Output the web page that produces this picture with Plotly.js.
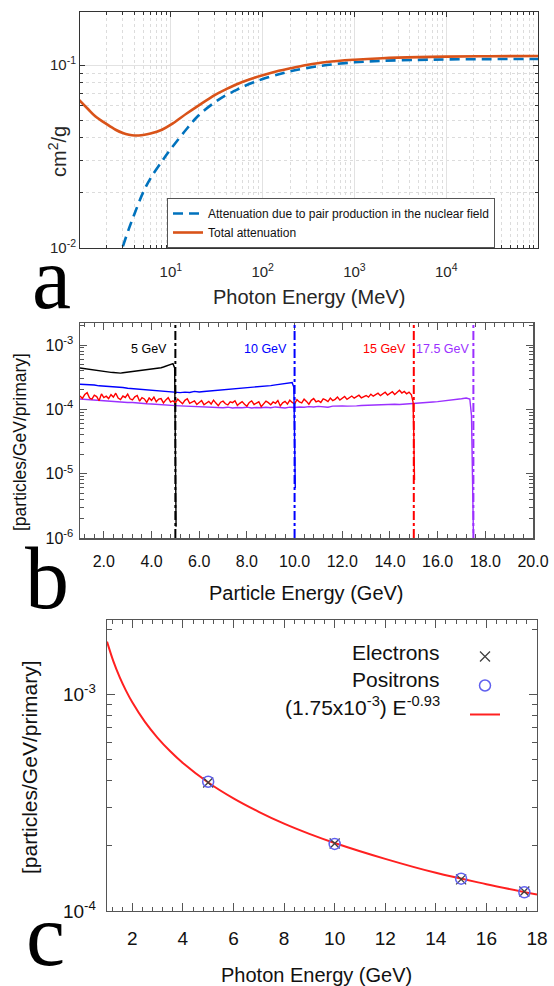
<!DOCTYPE html>
<html>
<head>
<meta charset="utf-8">
<script src="https://cdn.plot.ly/plotly-3.0.1.min.js"></script>
<style>html,body{margin:0;padding:0;background:#fff;}#chart{width:554px;height:986px;}</style>
</head>
<body>
<div id="chart"></div>
<script>
// ---------------- Panel a: attenuation in lead (cm^2/g vs MeV) ----------------
const totalE  = [1.0, 1.25, 1.5, 2, 2.5, 3, 3.5, 4, 5, 6, 8, 10, 15, 20, 30, 40, 50, 60, 80, 100, 150, 200, 300, 500, 1000, 2000, 5000, 10000, 30000, 100000];
const totalMu = [0.0645, 0.0575, 0.0525, 0.0475, 0.0443, 0.0425, 0.0416, 0.0412, 0.0415, 0.0422, 0.0443, 0.0472, 0.0545, 0.0600, 0.0685, 0.0738, 0.0778, 0.0808, 0.0850, 0.0880, 0.0930, 0.0960, 0.1000, 0.1040, 0.1070, 0.1090, 0.1105, 0.1112, 0.1118, 0.1120];
const pairE   = [3.0, 3.5, 4, 5, 6, 8, 10, 15, 20, 30, 40, 50, 60, 80, 100, 150, 200, 300, 500, 1000, 2000, 5000, 10000, 30000, 100000];
const pairMu  = [0.0102, 0.0128, 0.0153, 0.0202, 0.0240, 0.0298, 0.0348, 0.0450, 0.0530, 0.0625, 0.0685, 0.0724, 0.0758, 0.0805, 0.0838, 0.0890, 0.0925, 0.0962, 0.1000, 0.1035, 0.1055, 0.1068, 0.1073, 0.1078, 0.1080];
const legendA = ['Attenuation due to pair production in the nuclear field', 'Total attenuation'];

// ---------------- Panel b: spectra (particles/GeV/primary) ----------------
const beamE = [5, 10, 15, 17.5];
const beamLabels = ['5 GeV', '10 GeV', '15 GeV', '17.5 GeV'];
const beamColors = ['#000000', '#0000ff', '#ff0000', '#9b30ff'];

const blackE = [1.0,1.1,1.2,1.3,1.4,1.5,1.6,1.7,1.8,1.9,2.0,2.1,2.2,2.3,2.4,2.5,2.6,2.7,2.8,2.9,3.0,3.1,3.2,3.3,3.4,3.5,3.6,3.7,3.8,3.9,4.0,4.1,4.2,4.3,4.4,4.5,4.6,4.7,4.8,4.9,4.97,5.0,5.03];
const blackY = [4.40,4.34,4.30,4.22,4.18,4.10,4.08,4.00,3.97,3.92,3.90,3.84,3.82,3.76,3.74,3.68,3.72,3.66,3.70,3.74,3.76,3.80,3.82,3.88,3.90,3.94,3.97,4.02,4.06,4.12,4.16,4.22,4.28,4.36,4.44,4.55,4.66,4.82,5.00,5.12,4.40,0.50,0.015]; // x1e-4

const blueE = [1.0,1.2,1.4,1.6,1.8,2.0,2.2,2.4,2.6,2.8,3.0,3.2,3.4,3.6,3.8,4.0,4.2,4.4,4.6,4.8,5.0,5.2,5.4,5.6,5.8,6.0,6.2,6.4,6.6,6.8,7.0,7.2,7.4,7.6,7.8,8.0,8.2,8.4,8.6,8.8,9.0,9.2,9.4,9.6,9.8,9.9,9.97,10.0,10.03];
const blueY = [2.45,2.44,2.38,2.39,2.32,2.30,2.27,2.24,2.20,2.18,2.13,2.10,2.07,2.02,2.00,1.96,1.95,1.91,1.88,1.89,1.84,1.82,1.85,1.83,1.90,1.86,1.89,1.92,1.91,1.95,1.98,2.00,2.04,2.06,2.10,2.12,2.17,2.20,2.24,2.28,2.34,2.40,2.45,2.52,2.62,2.60,2.20,0.40,0.06]; // x1e-4

const redE = [1.0,1.1,1.2,1.3,1.4,1.5,1.6,1.7,1.8,1.9,
  2.0,2.1,2.2,2.3,2.4,2.5,2.6,2.7,2.8,2.9,
  3.0,3.1,3.2,3.3,3.4,3.5,3.6,3.7,3.8,3.9,
  4.0,4.1,4.2,4.3,4.4,4.5,4.6,4.7,4.8,4.9,
  5.0,5.1,5.2,5.3,5.4,5.5,5.6,5.7,5.8,5.9,
  6.0,6.1,6.2,6.3,6.4,6.5,6.6,6.7,6.8,6.9,
  7.0,7.1,7.2,7.3,7.4,7.5,7.6,7.7,7.8,7.9,
  8.0,8.1,8.2,8.3,8.4,8.5,8.6,8.7,8.8,8.9,
  9.0,9.1,9.2,9.3,9.4,9.5,9.6,9.7,9.8,9.9,
  10.0,10.1,10.2,10.3,10.4,10.5,10.6,10.7,10.8,10.9,
  11.0,11.1,11.2,11.3,11.4,11.5,11.6,11.7,11.8,11.9,
  12.0,12.1,12.2,12.3,12.4,12.5,12.6,12.7,12.8,12.9,
  13.0,13.1,13.2,13.3,13.4,13.5,13.6,13.7,13.8,13.9,
  14.0,14.1,14.2,14.3,14.4,14.5,14.6,14.7,14.8,14.9,
  14.97,15.0,15.03];
const redY = [1.62,1.48,1.70,1.82,1.50,1.44,1.66,1.58,1.36,1.74,
  1.52,1.60,1.47,1.69,1.55,1.78,1.50,1.42,1.61,1.53,
  1.72,1.46,1.40,1.56,1.64,1.34,1.52,1.45,1.28,1.50,
  1.38,1.55,1.31,1.44,1.47,1.26,1.40,1.52,1.30,1.36,
  1.25,1.44,1.32,1.22,1.38,1.46,1.24,1.30,1.35,1.19,
  1.30,1.37,1.18,1.26,1.33,1.21,1.39,1.25,1.14,1.29,
  1.34,1.22,1.17,1.31,1.27,1.36,1.15,1.24,1.32,1.20,
  1.12,1.28,1.35,1.19,1.25,1.31,1.10,1.23,1.34,1.27,
  1.18,1.30,1.24,1.37,1.13,1.26,1.33,1.21,1.39,1.28,
  1.22,1.41,1.30,1.26,1.44,1.33,1.20,1.38,1.47,1.31,
  1.36,1.28,1.45,1.40,1.32,1.50,1.37,1.43,1.55,1.39,
  1.47,1.58,1.43,1.52,1.61,1.49,1.56,1.66,1.51,1.59,
  1.64,1.55,1.72,1.60,1.69,1.78,1.63,1.71,1.84,1.67,
  1.76,1.88,1.70,1.82,1.98,1.79,1.90,1.74,1.85,1.68,
  1.30,0.40,0.08]; // x1e-4

const purpleE = [1.0,1.2,1.4,1.6,1.8,2.0,2.2,2.4,2.6,2.8,
  3.0,3.2,3.4,3.6,3.8,4.0,4.2,4.4,4.6,4.8,
  5.0,5.2,5.4,5.6,5.8,6.0,6.2,6.4,6.6,6.8,
  7.0,7.2,7.4,7.6,7.8,8.0,8.2,8.4,8.6,8.8,
  9.0,9.2,9.4,9.6,9.8,10.0,10.2,10.4,10.6,10.8,
  11.0,11.2,11.4,11.6,11.8,12.0,12.2,12.4,12.6,12.8,
  13.0,13.2,13.4,13.6,13.8,14.0,14.2,14.4,14.6,14.8,
  15.0,15.2,15.4,15.6,15.8,16.0,16.2,16.4,16.6,16.8,
  17.0,17.2,17.35,17.42,17.47,17.5];
const purpleY = [1.45,1.43,1.41,1.42,1.38,1.37,1.37,1.33,1.32,1.30,
  1.28,1.28,1.25,1.24,1.22,1.21,1.19,1.18,1.18,1.15,
  1.14,1.13,1.12,1.13,1.10,1.11,1.08,1.09,1.07,1.08,
  1.06,1.08,1.05,1.07,1.06,1.08,1.05,1.07,1.06,1.08,
  1.06,1.09,1.07,1.05,1.08,1.07,1.09,1.08,1.10,1.09,
  1.11,1.10,1.08,1.12,1.11,1.13,1.12,1.14,1.13,1.15,
  1.16,1.15,1.17,1.18,1.17,1.19,1.20,1.19,1.21,1.22,
  1.24,1.25,1.27,1.28,1.30,1.32,1.34,1.36,1.38,1.42,
  1.46,1.50,1.45,0.80,0.10,0.012]; // x1e-4

// ---------------- Panel c: yield vs photon energy ----------------
const ptE = [5, 10, 15, 17.5];
const electronsY = [3.92e-4, 2.05e-4, 1.40e-4, 1.23e-4];
const positronsY = [3.95e-4, 2.04e-4, 1.41e-4, 1.22e-4];
const fitE = [1, 1.25, 1.5, 1.75, 2, 2.5, 3, 3.5, 4, 5, 6, 7, 8, 9, 10, 12, 14, 16, 18];
const fitY = [1.75e-3, 1.422e-3, 1.200e-3, 1.040e-3, 9.19e-4, 7.46e-4, 6.30e-4, 5.46e-4, 4.82e-4, 3.92e-4, 3.31e-4, 2.87e-4, 2.53e-4, 2.27e-4, 2.06e-4, 1.74e-4, 1.50e-4, 1.33e-4, 1.19e-4];
const legendC = ['Electrons', 'Positrons', '(1.75x10<sup>-3</sup>) E<sup>-0.93</sup>'];

// ---------------- helpers ----------------
const W = 554, H = 986;
const fx = px => px / W;
const fy = py => 1 - py / H;
const scale = (arr, k) => arr.map(v => v * k);
function logMinor(k0, k1) {
  const out = [];
  for (let k = k0; k <= k1; k++) for (let m = 2; m <= 9; m++) out.push(m * Math.pow(10, k));
  return out;
}
function pow10Label(p) { return '10<sup>' + p + '</sup>'; }

const sans = 'Liberation Sans, Arial, Helvetica, sans-serif';
const serif = 'Liberation Serif, DejaVu Serif, Times New Roman, serif';

const traces = [
  // panel a
  {x: pairE, y: pairMu, xaxis: 'x', yaxis: 'y', mode: 'lines', name: legendA[0], legend: 'legend',
   line: {color: '#0072BD', width: 2.6, dash: '10px,6px', shape: 'spline'}},
  {x: totalE, y: totalMu, xaxis: 'x', yaxis: 'y', mode: 'lines', name: legendA[1], legend: 'legend',
   line: {color: '#D95319', width: 2.6, shape: 'spline'}},
  // panel b
  {x: blackE, y: scale(blackY, 1e-4), xaxis: 'x2', yaxis: 'y2', mode: 'lines', showlegend: false, name: '5 GeV',
   line: {color: beamColors[0], width: 1.4}},
  {x: purpleE, y: scale(purpleY, 1e-4), xaxis: 'x2', yaxis: 'y2', mode: 'lines', showlegend: false, name: '17.5 GeV',
   line: {color: beamColors[3], width: 1.4}},
  {x: redE, y: scale(redY, 1e-4), xaxis: 'x2', yaxis: 'y2', mode: 'lines', showlegend: false, name: '15 GeV',
   line: {color: beamColors[2], width: 1.4}},
  {x: blueE, y: scale(blueY, 1e-4), xaxis: 'x2', yaxis: 'y2', mode: 'lines', showlegend: false, name: '10 GeV',
   line: {color: beamColors[1], width: 1.4}},
  // panel c
  {x: fitE, y: fitY, xaxis: 'x3', yaxis: 'y3', mode: 'lines', name: '', legend: 'legend2', legendrank: 3,
   line: {color: '#ff2020', width: 2, shape: 'spline'}},
  {x: ptE, y: electronsY, xaxis: 'x3', yaxis: 'y3', mode: 'markers', name: '', legend: 'legend2', legendrank: 1,
   marker: {symbol: 'x-thin-open', size: 10, color: '#404040', line: {color: '#404040', width: 1.3}}},
  {x: ptE, y: positronsY, xaxis: 'x3', yaxis: 'y3', mode: 'markers', name: '', legend: 'legend2', legendrank: 2,
   marker: {symbol: 'circle-open', size: 11, color: '#6060ee', line: {color: '#6060ee', width: 1.5}}}
];

const axA = {
  showline: true, linecolor: '#333', linewidth: 1, mirror: 'allticks', ticks: 'inside', ticklen: 5, tickcolor: '#333',
  zeroline: false, showgrid: true, gridcolor: '#e2e2e2', gridwidth: 1,
  tickfont: {family: sans, size: 15, color: '#262626'}
};
const axB = {
  showline: true, linecolor: '#555', linewidth: 1.5, mirror: 'allticks', ticks: 'inside', ticklen: 7, tickcolor: '#555',
  zeroline: false, showgrid: false, tickfont: {family: sans, size: 16, color: '#111'}
};
const axC = {
  showline: true, linecolor: '#555', linewidth: 1.3, mirror: 'allticks', ticks: 'inside', ticklen: 8, tickcolor: '#555',
  zeroline: false, showgrid: false, tickfont: {family: sans, size: 19, color: '#111'}
};

const layout = {
  width: W, height: H, margin: {l: 0, r: 0, t: 0, b: 0},
  paper_bgcolor: '#fff', plot_bgcolor: '#fff', showlegend: true,
  xaxis: Object.assign({}, axA, {
    domain: [fx(80), fx(538)], anchor: 'y', type: 'log', range: [0.01, 5.0],
    tickmode: 'array', tickvals: [10, 100, 1000, 10000], ticktext: [1, 2, 3, 4].map(pow10Label),
    ticklabelstandoff: 10,
    minor: {tickmode: 'array', tickvals: logMinor(0, 4), ticks: 'inside', ticklen: 3, tickcolor: '#333',
            showgrid: true, gridcolor: '#dcdcdc', griddash: 'dot', gridwidth: 1}
  }),
  yaxis: Object.assign({}, axA, {
    domain: [fy(248), fy(12)], anchor: 'x', type: 'log', range: [-2, -0.71],
    tickmode: 'array', tickvals: [0.01, 0.1], ticktext: [pow10Label('-2'), pow10Label('-1')],
    ticklabelstandoff: 0,
    minor: {tickmode: 'array', tickvals: logMinor(-2, -1), ticks: 'inside', ticklen: 3, tickcolor: '#333',
            showgrid: true, gridcolor: '#dcdcdc', griddash: 'dot', gridwidth: 1}
  }),
  xaxis2: Object.assign({}, axB, {
    domain: [fx(80), fx(533)], anchor: 'y2', range: [1, 20],
    tickmode: 'linear', tick0: 0, dtick: 2, tickformat: '.1f', ticklabelstandoff: 8,
    minor: {tick0: 0, dtick: 0.4, ticks: 'inside', ticklen: 4, tickcolor: '#555'}
  }),
  yaxis2: Object.assign({}, axB, {
    domain: [fy(538), fy(323)], anchor: 'x2', type: 'log', range: [-6, -2.658],
    tickmode: 'array', tickvals: [1e-6, 1e-5, 1e-4, 1e-3], ticktext: ['-6', '-5', '-4', '-3'].map(pow10Label),
    ticklabelstandoff: 2,
    minor: {tickmode: 'array', tickvals: logMinor(-6, -3), ticks: 'inside', ticklen: 4, tickcolor: '#555'}
  }),
  xaxis3: Object.assign({}, axC, {
    domain: [fx(107), fx(537)], anchor: 'y3', range: [1, 18],
    tickmode: 'linear', tick0: 0, dtick: 2, ticklabelstandoff: 10,
    minor: {tick0: 0, dtick: 0.4, ticks: 'inside', ticklen: 4, tickcolor: '#555'}
  }),
  yaxis3: Object.assign({}, axC, {
    domain: [fy(911), fy(620)], anchor: 'x3', type: 'log', range: [-4, -2.657],
    tickmode: 'array', tickvals: [1e-4, 1e-3], ticktext: ['-4', '-3'].map(pow10Label),
    ticklabelstandoff: 6,
    minor: {tickmode: 'array', tickvals: logMinor(-4, -3), ticks: 'inside', ticklen: 5, tickcolor: '#555'}
  }),
  legend: {
    x: fx(167), y: fy(198), xanchor: 'left', yanchor: 'top', bgcolor: '#fff',
    bordercolor: '#555', borderwidth: 1, tracegroupgap: 0,
    font: {family: sans, size: 12, color: '#111'}
  },
  legend2: {
    x: fx(465), y: fy(637), xanchor: 'left', yanchor: 'top', bgcolor: 'rgba(0,0,0,0)',
    borderwidth: 0, tracegroupgap: 0, font: {family: sans, size: 20, color: '#111'}
  },
  shapes: beamE.map((e, i) => ({
    type: 'line', xref: 'x2', yref: 'y2 domain', x0: e, x1: e, y0: 0, y1: 1,
    line: {color: beamColors[i], width: 2, dash: '9px,3px,3px,3px'}
  })),
  annotations: []
};

const ann = layout.annotations;
// panel letters
ann.push({text: 'a', xref: 'paper', yref: 'paper', x: fx(51), y: fy(278), xanchor: 'center', yanchor: 'middle', showarrow: false, font: {family: serif, size: 88, color: '#000'}});
ann.push({text: 'b', xref: 'paper', yref: 'paper', x: fx(47), y: fy(578), xanchor: 'center', yanchor: 'middle', showarrow: false, font: {family: serif, size: 88, color: '#000'}});
ann.push({text: 'c', xref: 'paper', yref: 'paper', x: fx(45), y: 0, xanchor: 'center', yanchor: 'bottom', showarrow: false, font: {family: serif, size: 88, color: '#000'}});
// axis titles
ann.push({text: 'Photon Energy (MeV)', xref: 'paper', yref: 'paper', x: fx(309), y: fy(297), xanchor: 'center', yanchor: 'middle', showarrow: false, font: {family: sans, size: 20, color: '#262626'}});
ann.push({text: 'cm<sup>2</sup>/g', xref: 'paper', yref: 'paper', x: fx(58), y: fy(152), xanchor: 'center', yanchor: 'middle', textangle: -90, showarrow: false, font: {family: sans, size: 20, color: '#262626'}});
ann.push({text: 'Particle Energy (GeV)', xref: 'paper', yref: 'paper', x: fx(306), y: fy(593), xanchor: 'center', yanchor: 'middle', showarrow: false, font: {family: sans, size: 20, color: '#111'}});
ann.push({text: '[particles/GeV/primary]', xref: 'paper', yref: 'paper', x: fx(20), y: fy(442), xanchor: 'center', yanchor: 'middle', textangle: -90, showarrow: false, font: {family: sans, size: 17.5, color: '#111'}});
ann.push({text: 'Photon Energy (GeV)', xref: 'paper', yref: 'paper', x: fx(316), y: fy(975), xanchor: 'center', yanchor: 'middle', showarrow: false, font: {family: sans, size: 20, color: '#111'}});
ann.push({text: '[particles/GeV/primary]', xref: 'paper', yref: 'paper', x: fx(29), y: fy(767), xanchor: 'center', yanchor: 'middle', textangle: -90, showarrow: false, font: {family: sans, size: 21, color: '#111'}});
// beam labels (panel b)
beamE.forEach((e, i) => ann.push({
  text: beamLabels[i], xref: 'x2', yref: 'paper', x: e, y: fy(349), xanchor: 'right', yanchor: 'middle',
  xshift: i === 3 ? -2 : -6, showarrow: false, font: {family: sans, size: 12.5, color: beamColors[i]}
}));
// legend texts (panel c), right-aligned before the symbols
[652, 679, 706].forEach((py, i) => ann.push({
  text: legendC[i], xref: 'paper', yref: 'paper', x: fx(442), y: fy(py), xanchor: 'right', yanchor: 'middle',
  showarrow: false, font: {family: sans, size: 21, color: '#111'}
}));

Plotly.newPlot('chart', traces, layout, {displayModeBar: false, staticPlot: true});
</script>
</body>
</html>
